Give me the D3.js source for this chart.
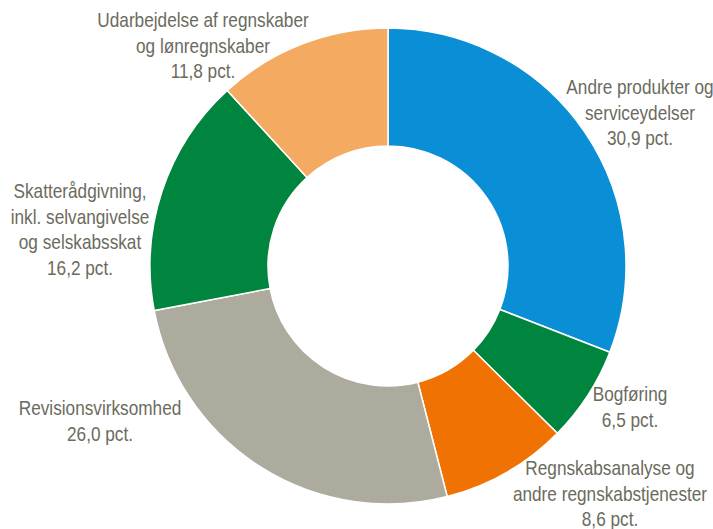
<!DOCTYPE html>
<html>
<head>
<meta charset="utf-8">
<script src="https://cdn.jsdelivr.net/npm/d3@7"></script>
<style>
  body { margin: 0; background: #fff; }
  svg text { font-family: "Liberation Sans Narrow", "Arial Narrow", "Liberation Sans", Arial, sans-serif; fill: #6b6b5d; font-size: 21px; }
</style>
</head>
<body>
<svg id="canvas" width="713" height="529"></svg>
<script>
let categories = ['Andre produkter og serviceydelser', 'Bogføring', 'Regnskabsanalyse og andre regnskabstjenester', 'Revisionsvirksomhed', 'Skatterådgivning, inkl. selvangivelse og selskabsskat', 'Udarbejdelse af regnskaber og lønregnskaber']
let values = [30.9, 6.5, 8.6, 26.0, 16.2, 11.8]
let valueLabels = ['30,9 pct.', '6,5 pct.', '8,6 pct.', '26,0 pct.', '16,2 pct.', '11,8 pct.']
let labelLines = [
    ['Andre produkter og', 'serviceydelser'],
    ['Bogføring'],
    ['Regnskabsanalyse og', 'andre regnskabstjenester'],
    ['Revisionsvirksomhed'],
    ['Skatterådgivning,', 'inkl. selvangivelse', 'og selskabsskat'],
    ['Udarbejdelse af regnskaber', 'og lønregnskaber']
]
let colors = ['#0a8fd6', '#00853e', '#ef7203', '#adab9d', '#00853e', '#f5aa62']

// label anchor (centre x, first line y) per slice
let labelPos = [[640, 89], [630, 396], [610, 470], [100, 410], [80, 193], [203, 22]]

let svg = d3.select('#canvas')
let cx = 388, cy = 266
let outerR = 238, innerR = 120

let pie = d3.pie().sort(null).value((d) => d)
let arc = d3.arc().innerRadius(innerR).outerRadius(outerR)

let g = svg.append('g').attr('transform', 'translate(' + cx + ',' + cy + ')')

g.selectAll('path')
    .data(pie(values))
    .enter()
    .append('path')
    .attr('d', arc)
    .attr('fill', (d, i) => colors[i])
    .attr('stroke', '#fff')
    .attr('stroke-width', 1.5)

let lineH = 25.5
let squeeze = 0.82  // no narrow font installed, so squash the regular one

labelLines.forEach((lines, i) => {
    let t = svg.append('text')
        .attr('text-anchor', 'middle')
        .attr('dominant-baseline', 'middle')
        .attr('transform', 'translate(' + labelPos[i][0] + ',0) scale(' + squeeze + ',1)')
    lines.concat([valueLabels[i]]).forEach((s, j) => {
        t.append('tspan')
            .attr('x', 0)
            .attr('y', labelPos[i][1] + j * lineH)
            .text(s)
    })
})
</script>
</body>
</html>
